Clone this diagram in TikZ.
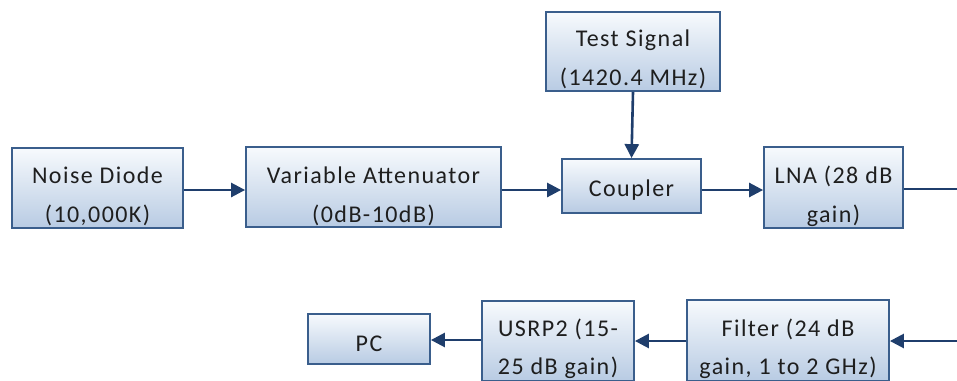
\documentclass[tikz,border=0pt]{standalone}
\usepackage{fontspec}
\setmainfont{Carlito}[LetterSpace=6]
\usetikzlibrary{arrows.meta,calc}
\definecolor{boxborder}{HTML}{3A5E8C}
\definecolor{boxtop}{HTML}{F7FAFD}
\definecolor{boxbot}{HTML}{B8CBE3}
\definecolor{arrcol}{HTML}{1F3E6C}
\definecolor{txtcol}{HTML}{1E1E1E}
\tikzset{
  blockbox/.style={draw=boxborder, line width=1.8pt, rectangle, top color=boxtop, bottom color=boxbot, inner sep=0pt},
  txt/.style={anchor=base, inner sep=0pt, text=txtcol, font=\fontsize{24}{29}\selectfont},
  arr/.style={draw=arrcol, line width=2.6pt, -{Triangle[length=14pt,width=14pt]}},
  ln/.style={draw=arrcol, line width=2.6pt}
}
\begin{document}
\begin{tikzpicture}[x=1pt,y=1pt,yscale=-1]
\useasboundingbox (0,0) rectangle (957,380);
\clip (0,0) rectangle (957,380);
\fill[white] (0,0) rectangle (957,380);
% boxes
\node[blockbox, minimum width=171pt, minimum height=80pt] (nd) at (97.5,188) {};
\node[blockbox, minimum width=255pt, minimum height=80pt] (at) at (373.5,187) {};
\node[blockbox, minimum width=174pt, minimum height=79pt] (ts) at (633,51.5) {};
\node[blockbox, minimum width=139pt, minimum height=54pt] (cp) at (631.5,186) {};
\node[blockbox, minimum width=139pt, minimum height=81pt] (lna) at (833.5,187.5) {};
\node[blockbox, minimum width=122pt, minimum height=50pt] (pc) at (369,339) {};
\node[blockbox, minimum width=152pt, minimum height=80pt] (us) at (558,341) {};
\node[blockbox, minimum width=202pt, minimum height=81pt] (fl) at (788,340.5) {};
% texts
\node[txt] (nd1) at (97.5,183) {Noise Diode};
\node[txt] (nd2) at (97.5,222) {(10,000K)};
\node[txt] (at1) at (373.5,183) {Variable Attenuator};
\node[txt] (at2) at (373.5,222) {(0dB-10dB)};
\node[txt] (ts1) at (633,46) {Test Signal};
\node[txt] (ts2) at (633,85) {(1420.4 MHz)};
\node[txt] (cp1) at (631.5,196) {Coupler};
\node[txt] (lna1) at (833.5,183) {LNA (28 dB};
\node[txt] (lna2) at (833.5,222) {gain)};
\node[txt] (pc1) at (369,351.5) {PC};
\node[txt] (us1) at (558,336) {USRP2 (15-};
\node[txt] (us2) at (558,374) {25 dB gain)};
\node[txt] (fl1) at (788,336) {Filter (24 dB};
\node[txt] (fl2) at (788,374) {gain, 1 to 2 GHz)};
% free ends
\coordinate (r1) at (957,189);
\coordinate (r2) at (957,341);
% connectors
\draw[arr] (nd.east |- 0,190) -- (at.west |- 0,190);
\draw[arr] (at.east |- 0,190) -- (cp.west |- 0,190);
\draw[arr] (ts.south) -- (cp.north);
\draw[arr] (cp.east |- 0,190) -- (lna.west |- 0,190);
\draw[ln] (lna.east |- r1) -- (r1);
\draw[arr] (r2) -- (fl.east |- r2);
\draw[arr] (fl.west |- 0,341) -- (us.east |- 0,341);
\draw[arr] (us.west |- 0,340) -- (pc.east |- 0,340);
\end{tikzpicture}
\end{document}
